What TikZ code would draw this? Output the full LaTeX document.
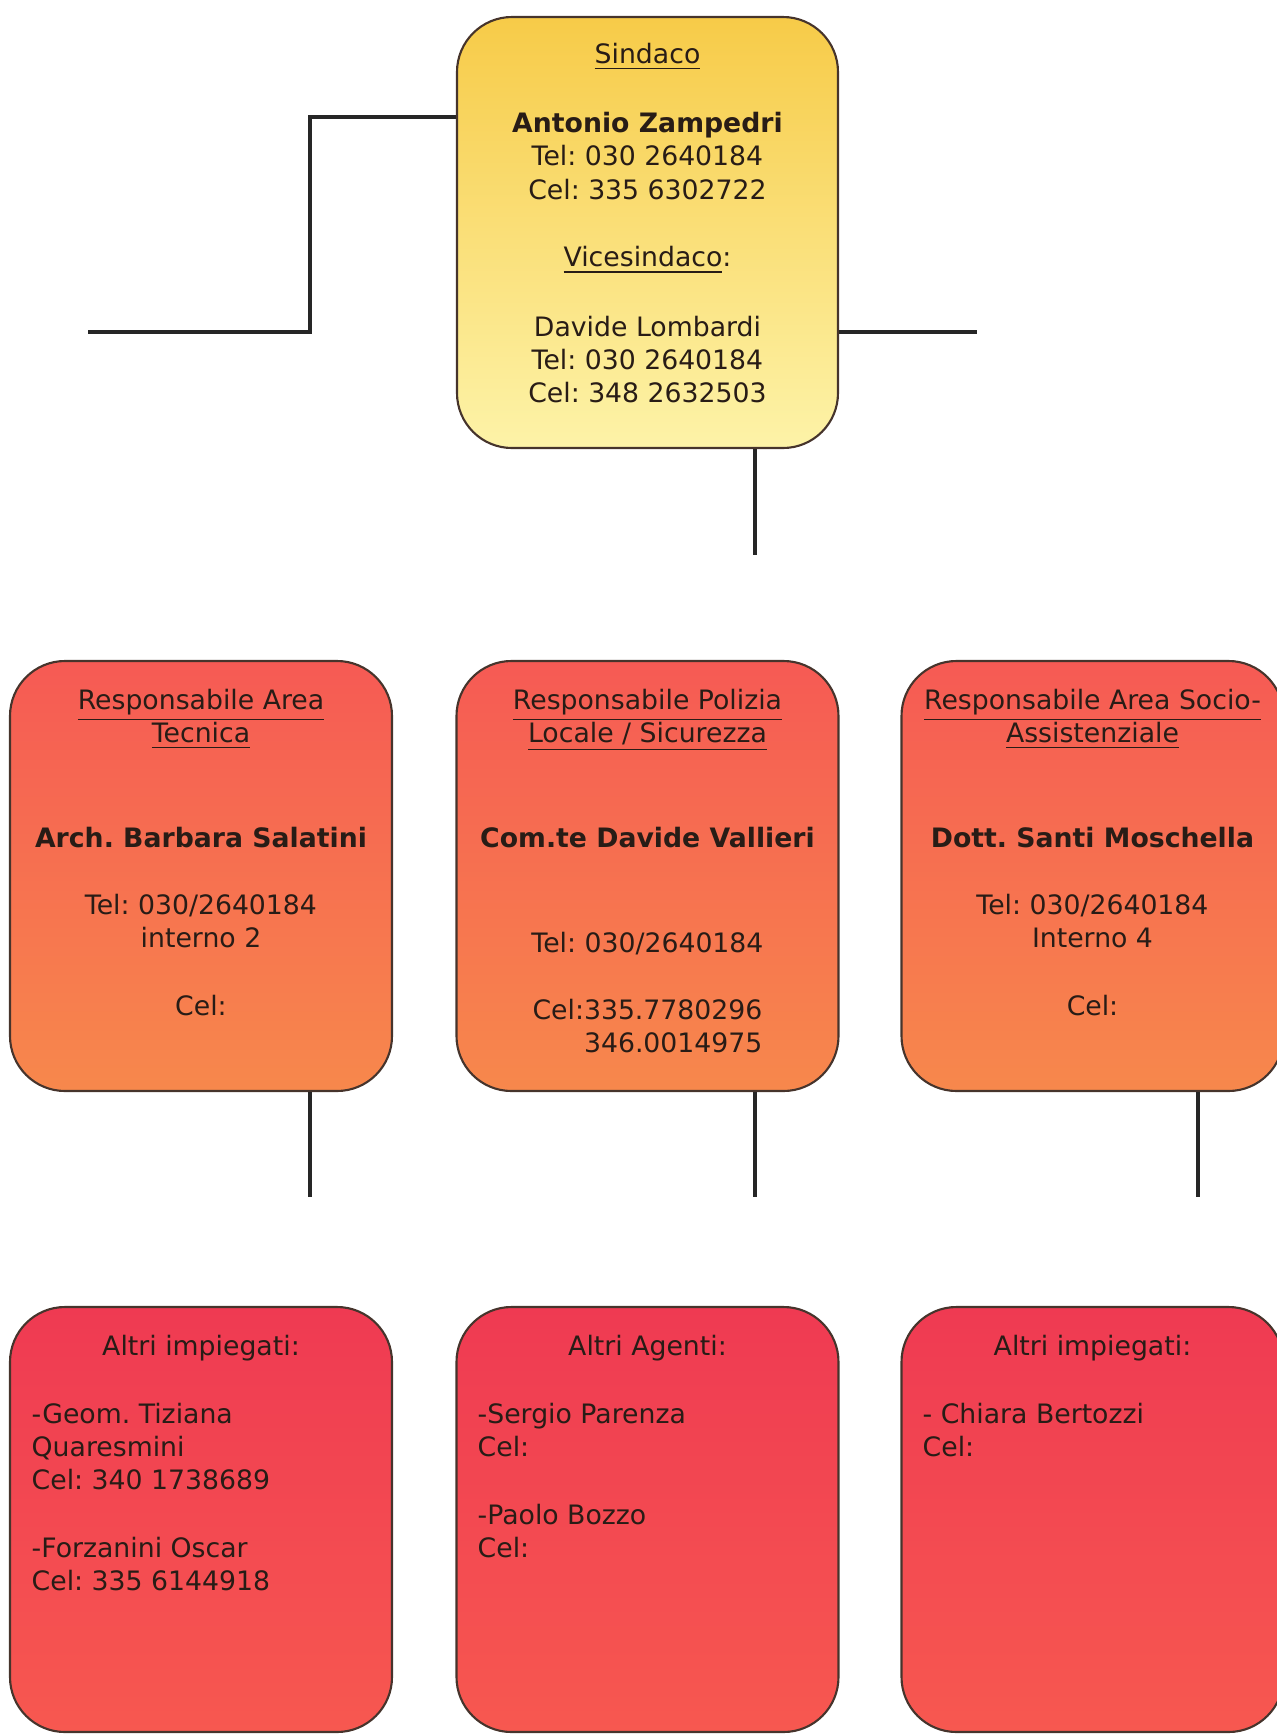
\documentclass[tikz,border=0pt]{standalone}
\usepackage{fontspec}
\setmainfont{DejaVu Sans}
\usetikzlibrary{calc}
\frenchspacing
\definecolor{sindacotop}{RGB}{247,203,72}
\definecolor{sindacobot}{RGB}{253,243,168}
\definecolor{respotop}{RGB}{246,90,84}
\definecolor{respobot}{RGB}{247,136,76}
\definecolor{altritop}{RGB}{239,58,82}
\definecolor{altribot}{RGB}{247,88,80}
\definecolor{boxedge}{RGB}{70,52,44}
\definecolor{ink}{RGB}{40,28,22}
\tikzstyle{card}=[draw=boxedge,line width=0.6pt,rounded corners=0.55cm,inner sep=0pt]
\tikzstyle{sindacobox}=[card,minimum width=3.81cm,minimum height=4.31cm,top color=sindacotop,bottom color=sindacobot]
\tikzstyle{respobox}=[card,minimum width=3.82cm,minimum height=4.30cm,top color=respotop,bottom color=respobot]
\tikzstyle{altribox}=[card,minimum width=3.82cm,minimum height=4.25cm,top color=altritop,bottom color=altribot]
\tikzstyle{txt}=[inner sep=0pt,text=ink,font=\fontsize{7.6}{9.4}\selectfont]
\tikzstyle{wire}=[line width=1.2pt,black!85]

\begin{document}
\begin{tikzpicture}

      \useasboundingbox (0,0) rectangle (12.77,-17.34);

      % boxes
      \node[sindacobox] (sindaco) at (6.475,-2.325) {};

      \node[respobox] (tecnica) at (2.01,-8.76) {};
      \node[respobox] (polizia) at (6.475,-8.76) {};
      \node[respobox] (sociale) at (10.925,-8.76) {};

      \node[altribox] (impTecnica) at (2.01,-15.195) {};
      \node[altribox] (agenti) at (6.475,-15.195) {};
      \node[altribox] (impSociale) at (10.925,-15.195) {};

      % texts
      \node[txt,align=center,anchor=north] (sindacotxt) at (6.475,-0.42)
        {\underline{Sindaco}\\[10.5pt]\textbf{Antonio Zampedri}\\Tel: 030 2640184\\Cel: 335 6302722\\[9.9pt]
         \underline{Vicesindaco}:\\[10.5pt]Davide Lombardi\\Tel: 030 2640184\\Cel: 348 2632503};

      \node[txt,align=center,anchor=north] (tecnicatxt) at (2.01,-6.88)
        {\underline{Responsabile Area}\\\underline{Tecnica}\\[20.5pt]\textbf{Arch. Barbara Salatini}\\[9.7pt]
         Tel: 030/2640184\\interno 2\\[10pt]Cel:};
      \node[txt,align=center,anchor=north] (poliziatxt) at (6.475,-6.88)
        {\underline{Responsabile Polizia}\\\underline{Locale / Sicurezza}\\[20.5pt]\textbf{Com.te Davide Vallieri}\\[20.5pt]
         Tel: 030/2640184\\[9.7pt]Cel:335.7780296\\\phantom{Cel:}346.0014975};
      \node[txt,align=center,anchor=north] (socialetxt) at (10.925,-6.88)
        {\underline{Responsabile Area Socio-}\\\underline{Assistenziale}\\[20.5pt]\textbf{Dott. Santi Moschella}\\[9.7pt]
         Tel: 030/2640184\\Interno 4\\[10pt]Cel:};

      \node[txt,anchor=base] (impTecnicahead) at (2.01,-13.55) {Altri impiegati:};
      \node[txt,anchor=base] (agentihead) at (6.475,-13.55) {Altri Agenti:};
      \node[txt,anchor=base] (impSocialehead) at (10.925,-13.55) {Altri impiegati:};

      \node[txt,align=left,anchor=north west] (impTecnicatxt) at (0.31,-14.02)
        {-Geom. Tiziana\\Quaresmini\\Cel: 340 1738689\\[10pt]-Forzanini Oscar\\Cel: 335 6144918};
      \node[txt,align=left,anchor=north west] (agentitxt) at (4.77,-14.02)
        {-Sergio Parenza\\Cel:\\[10pt]-Paolo Bozzo\\Cel:};
      \node[txt,align=left,anchor=north west] (impSocialetxt) at (9.22,-14.02)
        {- Chiara Bertozzi\\Cel:};

      % connectors
      \coordinate (l1) at (3.10,-1.17);
      \coordinate (l2) at (0.88,-3.32);
      \coordinate (r1) at (9.77,-3.32);
      \coordinate (d0) at (7.55,-5.55);
      \draw[wire] (sindaco.west |- l1) -- (l1) |- (l2);
      \draw[wire] (sindaco.east |- r1) -- (r1);
      \draw[wire] (sindaco.south -| d0) -- (d0);

      \foreach \b/\x in {tecnica/3.10,polizia/7.55,sociale/11.98} {
          \coordinate (d\b) at (\x,-11.97);
          \draw[wire] (\b.south -| d\b) -- (d\b);
      }

\end{tikzpicture}
\end{document}
